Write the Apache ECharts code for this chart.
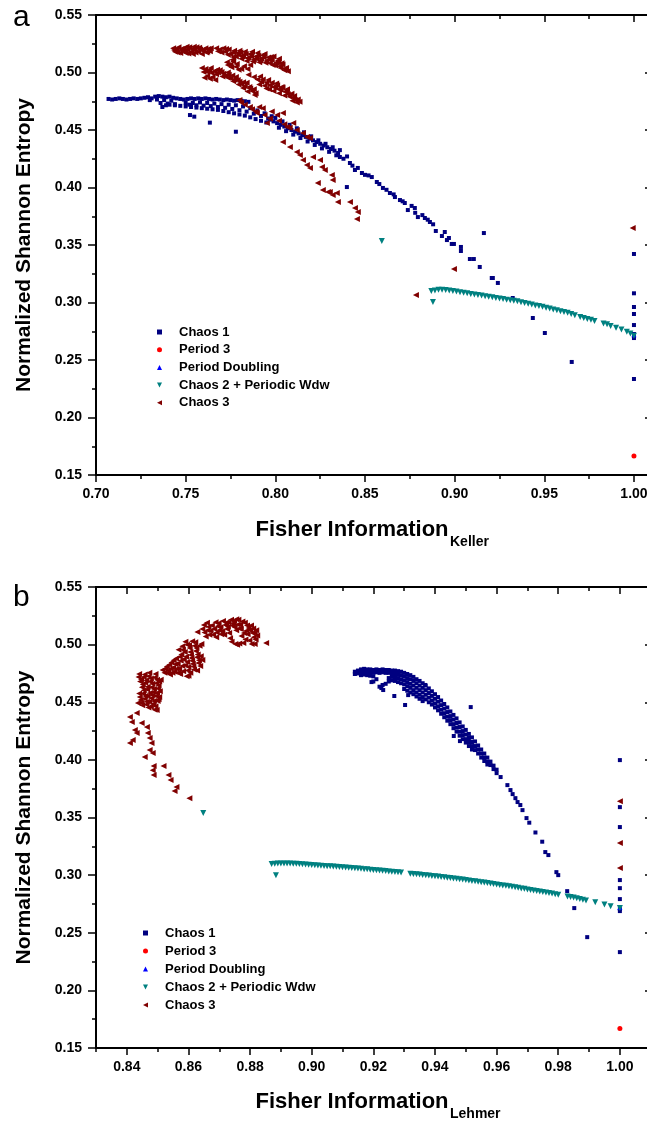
<!DOCTYPE html>
<html>
<head>
<meta charset="utf-8">
<script src="https://cdn.jsdelivr.net/npm/echarts@6.0.0/dist/echarts.min.js"></script>
<style>
html, body { margin: 0; padding: 0; background: #fff; }
#chart { width: 647px; height: 1122px; }
</style>
</head>
<body>
<div id="chart"></div>
<script>
// tick values (labels)
var xTicksA = [0.70, 0.75, 0.80, 0.85, 0.90, 0.95, 1.00];
var xMinorA = [0.725, 0.775, 0.825, 0.875, 0.925, 0.975];
var xTicksB = [0.84, 0.86, 0.88, 0.90, 0.92, 0.94, 0.96, 0.98, 1.00];
var xMinorB = [0.83, 0.85, 0.87, 0.89, 0.91, 0.93, 0.95, 0.97, 0.99];
var yTicks = [0.15, 0.20, 0.25, 0.30, 0.35, 0.40, 0.45, 0.50, 0.55];
var yMinor = [0.175, 0.225, 0.275, 0.325, 0.375, 0.425, 0.475, 0.525];

var seriesNames = ['Chaos 1', 'Period 3', 'Period Doubling', 'Chaos 2 + Periodic Wdw', 'Chaos 3'];

// panel a : Fisher Information (Keller)
var chaos1A = [
  [0.707,0.477],[0.709,0.4765],[0.711,0.477],[0.713,0.4775],[0.715,0.477],[0.717,0.4765],[0.719,0.477],[0.721,0.4775],
  [0.723,0.477],[0.725,0.4775],[0.727,0.478],[0.729,0.4785],[0.731,0.4775],[0.733,0.479],[0.735,0.4795],[0.737,0.479],
  [0.739,0.4785],[0.741,0.479],[0.743,0.478],[0.745,0.4775],[0.747,0.477],[0.749,0.4765],[0.751,0.477],[0.753,0.4775],
  [0.755,0.477],[0.757,0.4775],[0.759,0.477],[0.761,0.4775],[0.763,0.477],[0.765,0.4765],[0.767,0.477],[0.769,0.4765],
  [0.771,0.476],[0.773,0.4765],[0.775,0.476],[0.777,0.4755],[0.779,0.476],[0.781,0.4755],[0.783,0.475],[0.785,0.4745],
  [0.730,0.476],[0.734,0.4765],[0.738,0.476],[0.742,0.4755],[0.736,0.4735],[0.740,0.473],[0.744,0.4725],
  [0.737,0.470],[0.739,0.4715],[0.741,0.472],[0.744,0.4715],[0.747,0.471],[0.750,0.4705],[0.753,0.470],[0.756,0.4695],
  [0.759,0.469],[0.762,0.4685],[0.765,0.468],[0.768,0.4675],[0.771,0.4665],[0.774,0.4655],[0.777,0.4645],[0.780,0.4635],
  [0.783,0.4625],[0.786,0.461],[0.789,0.4595],[0.792,0.458],[0.795,0.4565],
  [0.750,0.4735],[0.754,0.4735],[0.758,0.474],[0.762,0.4735],[0.766,0.473],[0.770,0.4725],[0.774,0.472],[0.778,0.4715],
  [0.782,0.4705],[0.786,0.469],[0.790,0.467],[0.794,0.4645],[0.798,0.462],
  [0.752,0.4720],[0.756,0.4715],[0.760,0.4712],[0.764,0.4708],[0.768,0.4700],[0.772,0.4693],[0.776,0.4683],[0.780,0.4672],
  [0.784,0.4660],[0.788,0.4642],[0.792,0.4622],[0.796,0.4600],
  [0.7524,0.4630],[0.7548,0.4616],[0.7635,0.4564],[0.7780,0.4485],
  [0.797,0.459],[0.799,0.4575],[0.801,0.456],[0.803,0.4545],[0.805,0.453],[0.807,0.4515],[0.809,0.450],[0.811,0.4485],
  [0.813,0.447],[0.815,0.4455],[0.817,0.444],[0.819,0.4425],[0.821,0.441],[0.823,0.4395],[0.825,0.438],[0.827,0.4365],
  [0.829,0.435],[0.831,0.4335],[0.833,0.432],[0.835,0.430],
  [0.800,0.4605],[0.804,0.4575],[0.808,0.4545],[0.812,0.4515],[0.816,0.448],[0.820,0.4445],[0.824,0.441],[0.828,0.438],
  [0.832,0.435],[0.836,0.4325],
  [0.802,0.452],[0.806,0.449],[0.810,0.446],[0.814,0.443],[0.818,0.440],[0.822,0.437],[0.826,0.434],[0.830,0.431],
  [0.834,0.428],[0.838,0.425],[0.840,0.427],[0.843,0.419],[0.846,0.417],[0.850,0.411],[0.852,0.4105],[0.858,0.403],
  [0.862,0.398],[0.866,0.394],[0.871,0.388],[0.876,0.384],[0.878,0.378],[0.882,0.376],[0.885,0.372],[0.888,0.368],
  [0.8360,0.4265],[0.8399,0.4004],[0.8416,0.4213],[0.8444,0.4152],[0.8483,0.4126],[0.8538,0.4091],[0.8566,0.4048],
  [0.8600,0.3996],[0.8639,0.3952],[0.8667,0.3917],[0.8695,0.3891],[0.8722,0.3865],[0.8739,0.3804],[0.8778,0.3822],
  [0.8795,0.3743],[0.8834,0.3735],[0.8862,0.3700],[0.8895,0.3622],[0.8945,0.3613],[0.8929,0.3578],[0.8968,0.3561],
  [0.8957,0.3543],[0.8984,0.3509],[0.8996,0.3509],[0.9035,0.3483],[0.9035,0.3448],[0.9085,0.3378],[0.9107,0.3378],
  [0.9140,0.3309],[0.9207,0.3213],[0.9213,0.3213],[0.9241,0.3170],[0.9163,0.3604],[0.9324,0.3039],[0.9436,0.2865],
  [0.9503,0.2735],[0.9653,0.2483],
  [1.0,0.3422],[1.0,0.3080],[1.0,0.2961],[1.0,0.2900],[1.0,0.2804],[1.0,0.2726],[1.0,0.2691],[1.0,0.2335]
];
var period3A = [[1.0, 0.1665]];
var periodDoublingA = [[1.0, 0.272]];
var chaos2A = [
  [0.8594,0.3535],[0.8879,0.3004],
  [0.887,0.310],[0.889,0.3105],[0.891,0.311],[0.893,0.311],[0.895,0.3108],[0.897,0.3105],[0.899,0.310],[0.901,0.3095],
  [0.903,0.309],[0.905,0.3085],[0.907,0.308],[0.909,0.3075],[0.911,0.307],[0.913,0.3065],[0.915,0.306],[0.917,0.3055],
  [0.919,0.305],[0.921,0.3045],[0.923,0.304],[0.925,0.3035],[0.927,0.303],[0.929,0.3025],[0.931,0.302],[0.933,0.3015],
  [0.935,0.301],[0.937,0.3003],[0.939,0.2995],[0.941,0.299],[0.943,0.2983],[0.945,0.2975],[0.947,0.297],[0.949,0.2962],
  [0.951,0.2955],[0.953,0.2948],[0.955,0.294],[0.957,0.2932],[0.959,0.2925],[0.961,0.2917],[0.963,0.291],[0.965,0.290],
  [0.967,0.289],[0.970,0.2875],[0.972,0.2865],[0.974,0.2857],[0.976,0.285],[0.978,0.284],[0.983,0.2818],[0.985,0.281],
  [0.987,0.2795],[0.990,0.278],[0.993,0.2765],[0.996,0.2745],[0.998,0.273],[1.000,0.271]
];
var chaos3A = [
  [0.743,0.521],[0.745,0.520],[0.746,0.522],[0.748,0.519],[0.749,0.521],[0.750,0.517],[0.751,0.520],[0.752,0.522],
  [0.753,0.518],[0.754,0.516],[0.755,0.520],[0.756,0.522],[0.757,0.518],[0.758,0.520],[0.759,0.516],[0.760,0.519],
  [0.761,0.521],[0.762,0.518],[0.764,0.521],[0.747,0.517],[0.744,0.518],
  [0.7435,0.5195],[0.7455,0.5175],[0.7475,0.5205],[0.7495,0.5185],[0.7515,0.5165],[0.7535,0.5205],[0.7555,0.5175],
  [0.7575,0.5215],[0.7595,0.5195],[0.7615,0.5175],[0.7625,0.5205],[0.7635,0.5185],[0.7545,0.5225],[0.7505,0.5225],
  [0.767,0.521],[0.769,0.520],[0.771,0.521],[0.772,0.518],[0.774,0.520],[0.775,0.516],[0.777,0.519],[0.778,0.514],
  [0.779,0.517],[0.780,0.519],[0.781,0.512],[0.782,0.515],[0.783,0.518],[0.784,0.510],[0.785,0.513],[0.786,0.516],
  [0.787,0.518],[0.788,0.511],[0.789,0.514],[0.790,0.517],[0.791,0.509],[0.792,0.512],[0.793,0.515],[0.794,0.516],
  [0.795,0.510],[0.796,0.513],[0.797,0.508],[0.798,0.511],[0.799,0.514],[0.800,0.506],[0.801,0.509],[0.802,0.512],
  [0.803,0.504],[0.804,0.507],[0.805,0.502],[0.806,0.504],[0.807,0.501],[0.775,0.507],[0.778,0.505],[0.781,0.503],
  [0.773,0.509],[0.776,0.511],
  [0.768,0.5185],[0.770,0.5175],[0.7725,0.5205],[0.7735,0.5155],[0.7765,0.5135],[0.7765,0.5175],[0.7795,0.5155],
  [0.7805,0.5175],[0.7815,0.514],[0.7835,0.516],[0.7845,0.5125],[0.7865,0.514],[0.7875,0.5095],[0.7895,0.512],
  [0.7905,0.5145],[0.7915,0.5105],[0.7935,0.513],[0.7945,0.5085],[0.7965,0.511],[0.7975,0.5135],[0.7985,0.5065],
  [0.8005,0.5085],[0.8015,0.5105],[0.8025,0.5055],[0.8035,0.508],[0.8055,0.5035],[0.7755,0.5045],[0.7785,0.5075],
  [0.7795,0.5025],[0.7825,0.5055],[0.7845,0.503],[0.7765,0.5095],[0.7735,0.5065],[0.786,0.5065],
  [0.759,0.504],[0.761,0.503],[0.763,0.502],[0.764,0.504],[0.766,0.501],[0.768,0.500],[0.769,0.502],[0.771,0.499],
  [0.772,0.497],[0.774,0.498],[0.775,0.495],[0.777,0.494],[0.778,0.496],[0.780,0.492],[0.781,0.490],[0.783,0.488],
  [0.784,0.491],[0.786,0.486],[0.787,0.484],[0.789,0.482],[0.762,0.497],[0.765,0.496],[0.785,0.498],[0.788,0.496],
  [0.790,0.494],[0.792,0.492],[0.793,0.494],[0.795,0.491],[0.797,0.489],[0.798,0.491],[0.800,0.487],[0.801,0.489],
  [0.803,0.485],[0.804,0.487],[0.806,0.483],[0.807,0.481],[0.808,0.479],[0.810,0.478],[0.811,0.476],[0.812,0.474],
  [0.795,0.486],[0.799,0.484],[0.802,0.482],[0.805,0.480],
  [0.760,0.5005],[0.762,0.5005],[0.7645,0.4995],[0.767,0.4985],[0.7675,0.5025],[0.770,0.5005],[0.7705,0.4965],
  [0.7735,0.4955],[0.7735,0.500],[0.776,0.4975],[0.7765,0.4925],[0.779,0.4935],[0.7795,0.4895],[0.782,0.4915],
  [0.782,0.4865],[0.7855,0.4875],[0.7845,0.4835],[0.788,0.4855],[0.7885,0.4805],[0.791,0.4895],[0.7915,0.4965],
  [0.794,0.4885],[0.796,0.4935],[0.7965,0.4855],[0.799,0.4875],[0.8005,0.4905],[0.802,0.4855],[0.8035,0.4875],
  [0.8055,0.4835],[0.8065,0.4855],[0.809,0.4815],[0.8095,0.4755],[0.8105,0.4795],[0.8125,0.4765],[0.8135,0.4745],
  [0.7605,0.4955],[0.7635,0.4945],[0.7665,0.4935],
  [0.780,0.4761],[0.781,0.474],[0.783,0.472],[0.7858,0.470],[0.787,0.468],[0.789,0.466],[0.7897,0.4648],[0.791,0.470],
  [0.793,0.469],[0.794,0.463],[0.7953,0.4561],[0.797,0.460],[0.798,0.466],[0.801,0.463],[0.802,0.458],[0.8042,0.4648],
  [0.805,0.455],[0.8065,0.4526],[0.808,0.452],[0.810,0.4561],[0.812,0.450],[0.8154,0.4474],[0.8176,0.444],[0.8193,0.443],
  [0.8042,0.4396],[0.8081,0.4352],[0.812,0.4309],[0.8137,0.4283],[0.8154,0.4239],[0.8176,0.4196],[0.8193,0.417],
  [0.821,0.4265],[0.8249,0.424],[0.826,0.4178],[0.8276,0.4152],[0.8237,0.4039],[0.8265,0.3978],[0.8293,0.396],
  [0.8315,0.4109],[0.832,0.4065],[0.8304,0.396],[0.832,0.3935],[0.8343,0.3952],[0.8349,0.3874],[0.8416,0.3874],
  [0.8444,0.3822],[0.846,0.3787],[0.8455,0.3726],[0.8784,0.3065],[0.8996,0.3291],[0.9993,0.3648]
];

// panel b : Fisher Information (Lehmer)
var chaos1B = [
  [0.914,0.4765],[0.914,0.4745],[0.916,0.4785],[0.916,0.4755],[0.916,0.4735],[0.918,0.4785],[0.918,0.476],[0.918,0.4735],
  [0.920,0.478],[0.920,0.4755],[0.920,0.4725],[0.920,0.468],[0.922,0.478],[0.922,0.4755],[0.922,0.4635],
  [0.924,0.478],[0.924,0.4755],[0.924,0.466],[0.926,0.4775],[0.926,0.475],[0.926,0.472],[0.926,0.469],
  [0.928,0.477],[0.928,0.474],[0.928,0.471],[0.928,0.4675],
  [0.930,0.4755],[0.930,0.4725],[0.930,0.469],[0.930,0.4655],[0.930,0.4615],
  [0.932,0.4735],[0.932,0.470],[0.932,0.466],[0.932,0.4625],[0.932,0.4585],
  [0.934,0.470],[0.934,0.4665],[0.934,0.4625],[0.934,0.4585],[0.934,0.455],
  [0.936,0.4665],[0.936,0.4625],[0.936,0.4585],[0.936,0.4545],[0.936,0.451],
  [0.938,0.462],[0.938,0.458],[0.938,0.454],[0.938,0.450],[0.940,0.457],[0.940,0.453],[0.940,0.449],[0.940,0.4455],
  [0.942,0.4515],[0.942,0.4475],[0.942,0.4435],[0.942,0.440],[0.944,0.4455],[0.944,0.4415],[0.944,0.4375],[0.944,0.434],
  [0.946,0.439],[0.946,0.435],[0.946,0.431],[0.946,0.4275],[0.948,0.4325],[0.948,0.4285],[0.948,0.4245],[0.948,0.421],
  [0.950,0.426],[0.950,0.422],[0.950,0.418],[0.950,0.415],[0.952,0.4195],[0.952,0.4155],[0.952,0.412],[0.952,0.409],
  [0.954,0.4125],[0.954,0.409],[0.954,0.4055],[0.956,0.4055],[0.956,0.402],[0.956,0.399],[0.958,0.3985],[0.958,0.3955],
  [0.960,0.3915],[0.960,0.3885],
  [0.915,0.4775],[0.915,0.4750],[0.917,0.4790],[0.917,0.4765],[0.917,0.4740],[0.919,0.4785],[0.919,0.4760],[0.919,0.4730],
  [0.921,0.4785],[0.921,0.4760],[0.921,0.4700],[0.923,0.4785],[0.923,0.4760],[0.923,0.4650],
  [0.925,0.4780],[0.925,0.4755],[0.925,0.4710],[0.925,0.4680],[0.927,0.4775],[0.927,0.4745],[0.927,0.4715],[0.927,0.4685],
  [0.929,0.4765],[0.929,0.4735],[0.929,0.4700],[0.929,0.4665],
  [0.931,0.4745],[0.931,0.4710],[0.931,0.4675],[0.931,0.4640],[0.931,0.4600],
  [0.933,0.4720],[0.933,0.4685],[0.933,0.4645],[0.933,0.4605],[0.933,0.4570],
  [0.935,0.4685],[0.935,0.4645],[0.935,0.4605],[0.935,0.4565],[0.935,0.4530],
  [0.937,0.4645],[0.937,0.4605],[0.937,0.4565],[0.937,0.4525],[0.939,0.4595],[0.939,0.4555],[0.939,0.4515],[0.939,0.4480],
  [0.941,0.4545],[0.941,0.4505],[0.941,0.4465],[0.941,0.4430],[0.943,0.4485],[0.943,0.4445],[0.943,0.4405],[0.943,0.4370],
  [0.945,0.4420],[0.945,0.4380],[0.945,0.4345],[0.945,0.4310],[0.947,0.4360],[0.947,0.4320],[0.947,0.4280],[0.947,0.4245],
  [0.949,0.4290],[0.949,0.4250],[0.949,0.4215],[0.949,0.4180],[0.951,0.4225],[0.951,0.4190],[0.951,0.4155],[0.951,0.4120],
  [0.953,0.4160],[0.953,0.4120],[0.953,0.4085],[0.955,0.4090],[0.955,0.4055],[0.955,0.4020],
  [0.957,0.4020],[0.957,0.3985],[0.957,0.3960],[0.959,0.3950],[0.959,0.3920],
  [0.9194,0.4675],[0.9226,0.4623],[0.9232,0.4606],[0.9268,0.4554],[0.9303,0.4476],[0.9313,0.4562],[0.9368,0.465],
  [0.9461,0.4207],[0.9481,0.4163],[0.9516,0.4458],
  [0.9613,0.3851],[0.9635,0.3781],[0.9645,0.3738],[0.9652,0.3703],[0.9661,0.3668],[0.9668,0.3634],[0.9677,0.3608],
  [0.9684,0.3564],[0.9697,0.3495],[0.9706,0.3455],[0.9726,0.3370],[0.9748,0.3290],[0.9758,0.3200],[0.9768,0.3174],
  [0.9794,0.3026],[0.9800,0.3000],[0.9829,0.2861],[0.9852,0.2714],[0.9894,0.2462],
  [1.0,0.3998],[1.0,0.3590],[1.0,0.3417],[1.0,0.2957],[1.0,0.2887],[1.0,0.2792],[1.0,0.2705],[1.0,0.2688],[1.0,0.2332]
];
var period3B = [[1.0, 0.167]];
var periodDoublingB = [[1.0, 0.272]];
var chaos2B = [
  [0.8648,0.3538],[0.8884,0.3000],
  [0.887,0.3096],[0.889,0.3100],[0.891,0.3101],[0.893,0.3100],[0.895,0.3098],[0.897,0.3095],[0.899,0.3090],[0.901,0.3086],
  [0.903,0.3082],[0.905,0.3078],[0.907,0.3074],[0.909,0.3070],[0.911,0.3066],[0.913,0.3062],[0.915,0.3057],[0.917,0.3052],
  [0.919,0.3047],[0.921,0.3043],[0.923,0.3038],[0.925,0.3032],[0.927,0.3027],[0.929,0.3022],[0.932,0.3013],[0.934,0.3007],
  [0.936,0.3002],[0.938,0.2996],[0.940,0.2990],[0.942,0.2984],[0.944,0.2978],[0.946,0.2971],[0.948,0.2964],[0.950,0.2957],
  [0.952,0.2950],[0.954,0.2943],[0.956,0.2935],[0.958,0.2927],[0.960,0.2919],[0.962,0.2911],[0.964,0.2903],[0.966,0.2894],
  [0.968,0.2885],[0.970,0.2876],[0.972,0.2867],[0.974,0.2858],[0.976,0.2849],[0.978,0.2840],[0.980,0.2830],[0.983,0.2815],
  [0.985,0.2805],[0.987,0.2793],[0.989,0.2779],[0.992,0.2765],[0.995,0.2745],[0.997,0.2730],[1.000,0.2714],
  [0.888,0.3098],[0.890,0.3101],[0.892,0.3101],[0.894,0.3099],[0.896,0.3097],[0.898,0.3093],[0.900,0.3088],[0.902,0.3084],
  [0.904,0.3080],[0.906,0.3076],[0.908,0.3072],[0.910,0.3068],[0.912,0.3064],[0.914,0.3060],[0.916,0.3055],[0.918,0.3050],
  [0.920,0.3045],[0.922,0.3040],[0.924,0.3035],[0.926,0.3030],[0.928,0.3025],[0.933,0.3010],[0.935,0.3005],[0.937,0.2999],
  [0.939,0.2993],[0.941,0.2987],[0.943,0.2981],[0.945,0.2975],[0.947,0.2968],[0.949,0.2961],[0.951,0.2954],[0.953,0.2947],
  [0.955,0.2939],[0.957,0.2931],[0.959,0.2923],[0.961,0.2915],[0.963,0.2907],[0.965,0.2899],[0.967,0.2890],[0.969,0.2881],
  [0.971,0.2872],[0.973,0.2863],[0.975,0.2854],[0.977,0.2845],[0.979,0.2835],[0.984,0.2810],[0.986,0.2799],[0.988,0.2786]
];
var chaos3B = [
  [0.8629,0.511],[0.8645,0.5135],[0.8650,0.517],[0.8660,0.519],[0.8665,0.5155],[0.8672,0.512],[0.8680,0.5085],[0.8688,0.5195],
  [0.8695,0.516],[0.8700,0.5125],[0.8706,0.509],[0.8712,0.5205],[0.8720,0.517],[0.8725,0.5135],[0.8732,0.510],[0.8738,0.5215],
  [0.8745,0.5185],[0.8750,0.515],[0.8752,0.5005],[0.8758,0.4998],[0.8762,0.5215],[0.8768,0.5175],[0.8772,0.5075],[0.8778,0.5015],
  [0.8783,0.519],[0.8788,0.512],[0.8792,0.509],[0.8798,0.5035],[0.8803,0.5165],[0.8808,0.510],[0.8812,0.5065],[0.8815,0.5005],
  [0.8820,0.5125],[0.8823,0.508],[0.8852,0.5014],[0.8656,0.507],[0.8690,0.5065],[0.8740,0.5025],[0.8770,0.5135],[0.8795,0.5145],
  [0.8652,0.5105],[0.8662,0.5125],[0.8668,0.5085],[0.8676,0.5165],[0.8684,0.5135],[0.8692,0.5105],[0.8698,0.5185],[0.8704,0.5150],
  [0.8710,0.5115],[0.8716,0.5085],[0.8722,0.5190],[0.8728,0.5155],[0.8735,0.5055],[0.8742,0.5165],[0.8748,0.5205],[0.8755,0.5125],
  [0.8760,0.5175],[0.8765,0.5010],[0.8775,0.5200],[0.8780,0.5100],[0.8785,0.5045],[0.8790,0.5165],[0.8800,0.5125],[0.8805,0.5005],
  [0.8810,0.5140],[0.8815,0.5100],[0.8818,0.5045],[0.8765,0.5140],[0.8730,0.5195],[0.8755,0.5220],
  [0.8516,0.478],[0.8522,0.4755],[0.8530,0.481],[0.8535,0.4775],[0.8540,0.474],[0.8545,0.4845],[0.8550,0.480],[0.8555,0.4765],
  [0.8560,0.488],[0.8565,0.4835],[0.8570,0.479],[0.8573,0.4745],[0.8577,0.4915],[0.8582,0.4955],[0.8585,0.487],[0.8590,0.482],
  [0.8594,0.4725],[0.8598,0.4775],[0.8602,0.4995],[0.8606,0.4935],[0.8610,0.4885],[0.8614,0.4835],[0.8618,0.4785],[0.8622,0.502],
  [0.8626,0.497],[0.8630,0.4915],[0.8634,0.4865],[0.8638,0.4815],[0.8642,0.5005],[0.8645,0.4866],[0.8568,0.4955],[0.8590,0.5025],
  [0.8612,0.503],[0.8600,0.473],[0.8628,0.4775],
  [0.8525,0.4790],[0.8532,0.4755],[0.8538,0.4825],[0.8543,0.4790],[0.8548,0.4755],[0.8552,0.4865],[0.8558,0.4830],[0.8562,0.4790],
  [0.8566,0.4755],[0.8572,0.4895],[0.8575,0.4860],[0.8580,0.4815],[0.8583,0.4770],[0.8588,0.4935],[0.8592,0.4895],[0.8596,0.4850],
  [0.8600,0.4805],[0.8604,0.4970],[0.8608,0.4910],[0.8612,0.4860],[0.8616,0.4810],[0.8620,0.4990],[0.8624,0.4945],[0.8628,0.4890],
  [0.8632,0.4840],[0.8636,0.4990],[0.8640,0.4900],[0.8596,0.5000],[0.8580,0.4985],[0.8606,0.4755],
  [0.8440,0.4745],[0.8446,0.470],[0.8452,0.4655],[0.8458,0.474],[0.8463,0.469],[0.8468,0.4635],[0.8473,0.4755],[0.8478,0.4705],
  [0.8483,0.466],[0.8488,0.4615],[0.8493,0.4745],[0.8498,0.4695],[0.8503,0.4645],[0.8507,0.4595],[0.8440,0.4575],[0.8445,0.452],
  [0.8450,0.4475],[0.8455,0.4605],[0.8460,0.4555],[0.8465,0.4505],[0.8470,0.4455],[0.8475,0.458],[0.8480,0.4535],[0.8485,0.4485],
  [0.8490,0.4435],[0.8495,0.4555],[0.8500,0.451],[0.8505,0.4545],[0.8436,0.4493],[0.8497,0.4432],[0.8510,0.4695],
  [0.8438,0.4720],[0.8443,0.4680],[0.8449,0.4630],[0.8455,0.4720],[0.8460,0.4670],[0.8466,0.4610],[0.8471,0.4725],[0.8476,0.4680],
  [0.8481,0.4630],[0.8486,0.4590],[0.8491,0.4715],[0.8496,0.4665],[0.8501,0.4620],[0.8505,0.4680],[0.8442,0.4545],[0.8448,0.4495],
  [0.8453,0.4575],[0.8458,0.4530],[0.8463,0.4480],[0.8468,0.4555],[0.8473,0.4505],[0.8478,0.4460],[0.8483,0.4560],[0.8488,0.4510],
  [0.8493,0.4465],[0.8498,0.4580],[0.8503,0.4525],
  [0.8410,0.4372],[0.8432,0.4406],[0.8416,0.4328],[0.8426,0.4259],[0.8410,0.4146],[0.8419,0.4172],[0.8432,0.4233],[0.8448,0.432],
  [0.8465,0.4285],[0.8468,0.4233],[0.8474,0.4189],[0.8480,0.4146],[0.8474,0.4085],[0.8484,0.4059],[0.8458,0.4024],[0.8487,0.3946],
  [0.8484,0.3911],[0.8487,0.3868],[0.8519,0.3946],[0.8535,0.3868],[0.8542,0.3825],[0.8561,0.3764],[0.8555,0.3729],[0.8603,0.3668],
  [1.0,0.3642],[1.0,0.3278],[1.0,0.3061]
];

var FONT = '"Liberation Sans", Arial, sans-serif';
var DOWN_TRI = 'path://M0,0L10,0L5,10Z';
var LEFT_TRI = 'path://M10,0L10,10L0,5Z';
var colors = ['#000080', '#ff0000', '#0000ff', '#008080', '#800000'];
var symbols = ['rect', 'circle', 'triangle', DOWN_TRI, LEFT_TRI];
var sizes = [4, 5, 5, 6, 6];

function fmt(v) { return v.toFixed(2); }

function xAxesFor(grid, min, max, majors, minors) {
  var line = { show: true, onZero: false, lineStyle: { color: '#000', width: 2 } };
  var tickStyle = { color: '#000', width: 1.5 };
  var common = { type: 'value', gridIndex: grid, min: min, max: max, splitLine: { show: false } };
  return [
    Object.assign({}, common, { position: 'bottom', axisLine: line,
      axisTick: { show: true, inside: false, length: 7, customValues: majors, lineStyle: tickStyle },
      axisLabel: { show: true, customValues: majors, formatter: fmt, margin: 12, color: '#000',
        fontWeight: 'bold', fontSize: 14, fontFamily: FONT } }),
    Object.assign({}, common, { position: 'bottom', axisLine: { show: false, onZero: false },
      axisTick: { show: true, inside: false, length: 4, customValues: minors, lineStyle: tickStyle },
      axisLabel: { show: false } }),
    Object.assign({}, common, { position: 'top', axisLine: line,
      axisTick: { show: true, inside: true, length: 7, customValues: majors, lineStyle: tickStyle },
      axisLabel: { show: false } }),
    Object.assign({}, common, { position: 'top', axisLine: { show: false, onZero: false },
      axisTick: { show: true, inside: true, length: 4, customValues: minors, lineStyle: tickStyle },
      axisLabel: { show: false } })
  ];
}

function yAxesFor(grid) {
  var line = { show: true, onZero: false, lineStyle: { color: '#000', width: 2 } };
  var tickStyle = { color: '#000', width: 1.5 };
  var common = { type: 'value', gridIndex: grid, min: 0.15, max: 0.55, splitLine: { show: false } };
  return [
    Object.assign({}, common, { position: 'left', axisLine: line,
      name: 'Normalized Shannon Entropy', nameLocation: 'middle', nameGap: 61, nameRotate: 90,
      nameTextStyle: { color: '#000', fontWeight: 'bold', fontSize: 21, fontFamily: FONT },
      axisTick: { show: true, inside: false, length: 8, customValues: yTicks, lineStyle: tickStyle },
      axisLabel: { show: true, customValues: yTicks, formatter: fmt, margin: 14, color: '#000',
        fontWeight: 'bold', fontSize: 14, fontFamily: FONT } }),
    Object.assign({}, common, { position: 'left', axisLine: { show: false, onZero: false },
      axisTick: { show: true, inside: false, length: 4, customValues: yMinor, lineStyle: tickStyle },
      axisLabel: { show: false } }),
    Object.assign({}, common, { position: 'right', axisLine: line,
      axisTick: { show: true, inside: true, length: 6, customValues: yTicks, lineStyle: tickStyle },
      axisLabel: { show: false } }),
    Object.assign({}, common, { position: 'right', axisLine: { show: false, onZero: false },
      axisTick: { show: true, inside: true, length: 3, customValues: yMinor, lineStyle: tickStyle },
      axisLabel: { show: false } })
  ];
}

function seriesFor(axisIdx, datasets) {
  return datasets.map(function (d, i) {
    return {
      name: seriesNames[i], type: 'scatter', xAxisIndex: axisIdx, yAxisIndex: axisIdx,
      symbol: symbols[i], symbolSize: sizes[i], itemStyle: { color: colors[i], opacity: 1 },
      emphasis: { disabled: true }, data: d
    };
  });
}

function legendFor(left, top, gap) {
  return {
    orient: 'vertical', left: left, top: top, padding: 0, itemWidth: 5, itemHeight: 5, itemGap: gap,
    selectedMode: false,
    textStyle: { color: '#000', fontSize: 13, fontWeight: 'bold', fontFamily: FONT, lineHeight: 14, padding: [0, 0, 0, 12] },
    data: seriesNames.map(function (n, i) { return { name: n, icon: symbols[i] }; })
  };
}

var myChart = echarts.init(document.getElementById('chart'));
var option = {
  animation: false,
  backgroundColor: '#fff',
  grid: [
    { left: 96, top: 15, width: 555, height: 460, outerBoundsMode: 'none', containLabel: false },
    { left: 96, top: 587, width: 555, height: 461, outerBoundsMode: 'none', containLabel: false }
  ],
  xAxis: xAxesFor(0, 0.70, 1.0095, xTicksA, xMinorA).concat(xAxesFor(1, 0.83, 1.0101, xTicksB, xMinorB)),
  yAxis: yAxesFor(0).concat(yAxesFor(1)),
  legend: [legendFor(157, 325, 3.7), legendFor(143, 926, 4)],
  series: seriesFor(0, [chaos1A, period3A, periodDoublingA, chaos2A, chaos3A])
    .concat(seriesFor(4, [chaos1B, period3B, periodDoublingB, chaos2B, chaos3B])),
  graphic: [
    { type: 'text', x: 13, y: 18, style: { text: 'a', font: '30px ' + FONT, fill: '#000', verticalAlign: 'middle', textVerticalAlign: 'middle' } },
    { type: 'text', x: 13, y: 598, style: { text: 'b', font: '30px ' + FONT, fill: '#000', verticalAlign: 'middle', textVerticalAlign: 'middle' } },
    { type: 'text', x: 352, y: 530, style: { text: 'Fisher Information', font: 'bold 22px ' + FONT, fill: '#000',
      align: 'center', textAlign: 'center', verticalAlign: 'middle', textVerticalAlign: 'middle' } },
    { type: 'text', x: 450, y: 542, style: { text: 'Keller', font: 'bold 14px ' + FONT, fill: '#000',
      verticalAlign: 'middle', textVerticalAlign: 'middle' } },
    { type: 'text', x: 352, y: 1102, style: { text: 'Fisher Information', font: 'bold 22px ' + FONT, fill: '#000',
      align: 'center', textAlign: 'center', verticalAlign: 'middle', textVerticalAlign: 'middle' } },
    { type: 'text', x: 450, y: 1114, style: { text: 'Lehmer', font: 'bold 14px ' + FONT, fill: '#000',
      verticalAlign: 'middle', textVerticalAlign: 'middle' } }
  ]
};
myChart.setOption(option);
</script>
</body>
</html>
